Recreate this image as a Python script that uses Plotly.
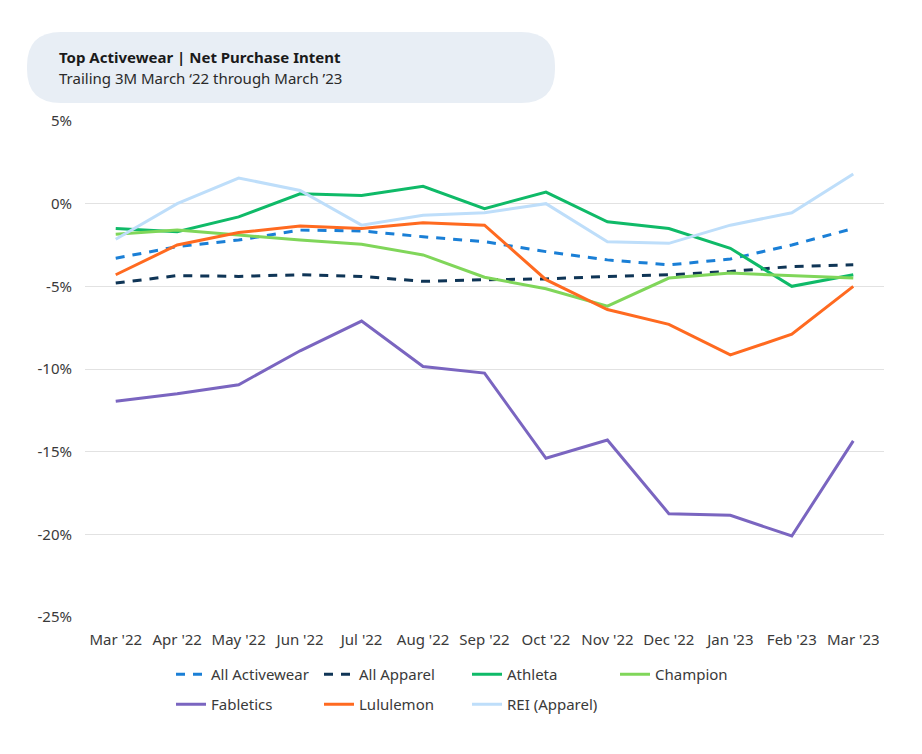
import plotly.graph_objects as go

months = ["Mar '22", "Apr '22", "May '22", "Jun '22", "Jul '22", "Aug '22", "Sep '22",
          "Oct '22", "Nov '22", "Dec '22", "Jan '23", "Feb '23", "Mar '23"]

all_activewear = [-3.3, -2.6, -2.2, -1.6, -1.65, -2.0, -2.3, -2.9, -3.4, -3.7, -3.35, -2.5, -1.5]
all_apparel = [-4.8, -4.35, -4.4, -4.3, -4.4, -4.7, -4.6, -4.55, -4.4, -4.3, -4.1, -3.8, -3.7]
athleta = [-1.5, -1.7, -0.8, 0.6, 0.5, 1.05, -0.3, 0.7, -1.1, -1.5, -2.7, -5.0, -4.3]
champion = [-1.85, -1.6, -1.9, -2.2, -2.45, -3.1, -4.45, -5.15, -6.2, -4.5, -4.2, -4.35, -4.5]
fabletics = [-11.95, -11.5, -10.95, -8.9, -7.1, -9.85, -10.25, -15.4, -14.3, -18.75, -18.85, -20.1, -14.35]
lululemon = [-4.3, -2.5, -1.75, -1.35, -1.5, -1.15, -1.3, -4.6, -6.4, -7.3, -9.15, -7.9, -5.0]
rei = [-2.15, 0.0, 1.55, 0.8, -1.3, -0.7, -0.55, 0.0, -2.3, -2.4, -1.3, -0.55, 1.8]

y_ticks = [5, 0, -5, -10, -15, -20, -25]
y_tick_text = ["5%", "0%", "-5%", "-10%", "-15%", "-20%", "-25%"]

series = [
    ("All Activewear", all_activewear, "#1a7fd6", "9px,8px", "legend"),
    ("All Apparel", all_apparel, "#0f3556", "9px,8px", "legend"),
    ("Athleta", athleta, "#0fba68", "solid", "legend"),
    ("Champion", champion, "#80d65a", "solid", "legend"),
    ("Fabletics", fabletics, "#7a65c0", "solid", "legend2"),
    ("Lululemon", lululemon, "#ff6a20", "solid", "legend2"),
    ("REI (Apparel)", rei, "#bedefa", "solid", "legend2"),
]

FONT = "Noto Sans"

fig = go.Figure()
for name, vals, color, dash, leg in series:
    fig.add_trace(go.Scatter(
        x=months, y=vals, name=name, mode="lines", legend=leg,
        line=dict(color=color, width=3, dash=dash),
    ))

# page body has an 8px margin; positions below are given in screenshot pixels
OFF = 8
W, H = 922, 754
ml = 85 - OFF
mt = 121 - OFF
plot_right = 884 - OFF
plot_bottom = 617 - OFF
mr = W - plot_right
mb = H - plot_bottom
pw, ph = plot_right - ml, plot_bottom - mt

def px_x(px):
    return (px - OFF - ml) / pw

def px_y(py):
    return (plot_bottom - (py - OFF)) / ph

# rounded title box
x0, x1, y0, y1 = 27, 555, 32, 103
r = 34
def P(x, y):
    return f"{px_x(x):.5f},{px_y(y):.5f}"
path = (f"M {P(x0 + r, y0)} L {P(x1 - r, y0)} Q {P(x1, y0)} {P(x1, y0 + r)} "
        f"L {P(x1, y1 - r)} Q {P(x1, y1)} {P(x1 - r, y1)} L {P(x0 + r, y1)} "
        f"Q {P(x0, y1)} {P(x0, y1 - r)} L {P(x0, y0 + r)} Q {P(x0, y0)} {P(x0 + r, y0)} Z")

legend_common = dict(orientation="h", xanchor="left", yanchor="top",
                     entrywidth=103, entrywidthmode="pixels",
                     font=dict(family=FONT, size=15, color="#3a3a3a"),
                     bgcolor="rgba(0,0,0,0)")

fig.update_layout(
    width=W, height=H,
    margin=dict(l=ml, r=mr, t=mt, b=mb),
    paper_bgcolor="white", plot_bgcolor="white",
    font=dict(family=FONT, color="#3a3a3a", size=15),
    shapes=[dict(type="path", path=path, xref="paper", yref="paper",
                 fillcolor="#e8eef5", line=dict(width=0), layer="below")],
    annotations=[
        dict(text="<b>Top Activewear | Net Purchase Intent</b>", x=px_x(57), y=px_y(57),
             xref="paper", yref="paper", xanchor="left", yanchor="middle", showarrow=False,
             font=dict(family=FONT, size=15, color="#1a1a1a")),
        dict(text="Trailing 3M March \u201822 through March \u201923", x=px_x(57), y=px_y(78),
             xref="paper", yref="paper", xanchor="left", yanchor="middle", showarrow=False,
             font=dict(family=FONT, size=15, color="#2a2a2a")),
    ],
    xaxis=dict(type="category", range=[-0.5, 12.5], showgrid=False, showline=False,
               ticks="", tickfont=dict(size=15, color="#3a3a3a"), ticklabelstandoff=12),
    yaxis=dict(range=[-25, 5], tickvals=y_ticks, ticktext=y_tick_text, showgrid=True,
               gridcolor="#e2e2e2", gridwidth=1, zeroline=False, showline=False,
               ticks="", tickfont=dict(size=15, color="#3a3a3a"), ticklabelstandoff=12),
    legend=dict(x=px_x(171), y=px_y(658), **legend_common),
    legend2=dict(x=px_x(171), y=px_y(688), **legend_common),
    showlegend=True,
)

fig.write_html("out.html")
